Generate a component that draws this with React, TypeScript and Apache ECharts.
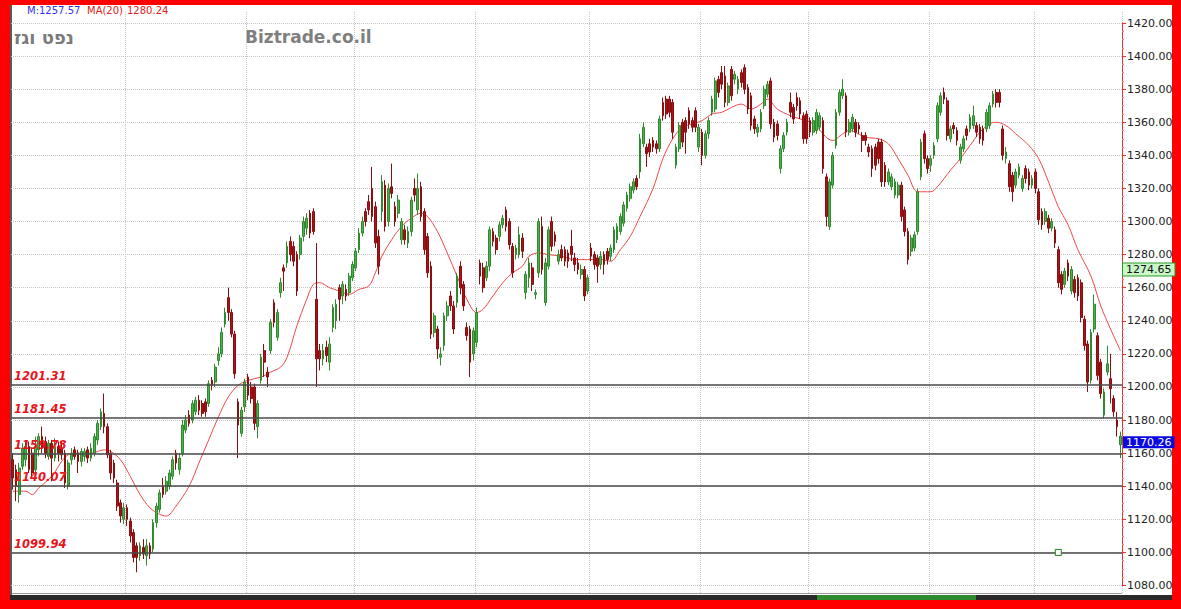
import React, { useEffect, useRef } from "react";
import * as echarts from "echarts";

// [open, close, low, high] per candle, left to right
const ohlc: number[][] = [
  [1156,1145,1138,1160],[1150,1140,1131,1153],[1135,1151,1130,1154],[1152,1163,1150,1166],[1156,1164,1152,1168],
  [1164,1150,1148,1167],[1160,1148,1146,1163],[1150,1164,1148,1170],[1162,1170,1158,1172],[1170,1163,1160,1176],
  [1167,1160,1157,1170],[1158,1166,1156,1168],[1166,1157,1143,1168],[1157,1164,1155,1169],[1164,1160,1155,1167],
  [1163,1159,1156,1167],[1160,1142,1139,1162],[1140,1154,1138,1156],[1156,1160,1153,1163],[1162,1158,1156,1164],
  [1160,1155,1148,1162],[1155,1161,1152,1163],[1158,1161,1155,1163],[1162,1157,1154,1164],[1157,1163,1155,1166],
  [1160,1170,1158,1172],[1168,1178,1165,1180],[1176,1185,1174,1187],[1184,1176,1172,1196],[1176,1159,1157,1178],
  [1160,1148,1144,1162],[1154,1145,1142,1156],[1142,1128,1125,1144],[1130,1122,1118,1132],[1120,1127,1117,1130],
  [1127,1120,1116,1129],[1119,1110,1106,1121],[1112,1097,1094,1114],[1104,1097,1088,1106],[1098,1104,1095,1106],
  [1103,1099,1096,1108],[1098,1104,1092,1108],[1104,1099,1096,1106],[1102,1118,1100,1120],[1118,1128,1115,1130],
  [1126,1136,1124,1138],[1140,1135,1133,1145],[1137,1143,1135,1146],[1140,1148,1138,1150],[1146,1156,1144,1158],
  [1160,1154,1150,1162],[1150,1157,1147,1160],[1160,1177,1158,1180],[1174,1180,1172,1183],[1183,1178,1176,1186],
  [1180,1190,1178,1192],[1185,1192,1183,1194],[1192,1186,1183,1195],[1190,1184,1182,1192],[1191,1185,1182,1193],
  [1190,1202,1188,1204],[1204,1201,1198,1206],[1203,1212,1200,1214],[1216,1220,1213,1224],[1220,1233,1218,1236],
  [1238,1245,1236,1248],[1254,1245,1240,1260],[1245,1232,1230,1247],[1232,1208,1205,1234],[1191,1177,1157,1193],
  [1172,1186,1170,1188],[1188,1203,1185,1205],[1206,1195,1192,1208],[1200,1193,1190,1203],[1200,1178,1174,1202],
  [1176,1190,1169,1192],[1204,1218,1202,1220],[1222,1215,1206,1226],[1209,1206,1200,1212],[1222,1239,1220,1241],
  [1251,1239,1236,1253],[1230,1245,1228,1247],[1257,1263,1254,1266],[1272,1270,1258,1274],[1275,1285,1272,1288],
  [1288,1280,1276,1291],[1285,1276,1273,1288],[1280,1258,1255,1282],[1280,1290,1277,1292],[1291,1300,1288,1303],
  [1296,1302,1292,1305],[1305,1293,1290,1307],[1306,1294,1292,1308],[1253,1217,1200,1287],[1222,1217,1210,1226],
  [1217,1222,1213,1226],[1224,1219,1215,1228],[1215,1226,1210,1230],[1236,1248,1233,1250],[1240,1250,1235,1253],
  [1260,1253,1240,1262],[1255,1262,1250,1264],[1259,1255,1252,1262],[1257,1267,1255,1269],[1266,1274,1264,1276],
  [1272,1282,1270,1284],[1283,1293,1281,1296],[1293,1300,1291,1303],[1306,1300,1297,1308],[1312,1307,1304,1316],
  [1320,1303,1300,1333],[1309,1287,1284,1312],[1291,1273,1268,1295],[1306,1324,1300,1328],[1322,1297,1294,1325],
  [1300,1320,1297,1323],[1321,1317,1314,1335],[1309,1300,1297,1312],[1305,1313,1302,1316],[1289,1300,1286,1302],
  [1295,1289,1286,1298],[1287,1294,1284,1297],[1294,1313,1291,1315],[1320,1316,1312,1326],[1307,1320,1304,1329],
  [1321,1303,1300,1324],[1306,1283,1280,1308],[1291,1269,1266,1293],[1273,1232,1229,1276],[1233,1243,1230,1245],
  [1235,1223,1217,1237],[1218,1220,1213,1224],[1225,1243,1222,1245],[1243,1249,1240,1252],[1255,1249,1246,1258],
  [1249,1235,1232,1252],[1251,1267,1248,1269],[1273,1260,1256,1276],[1262,1249,1246,1264],[1236,1231,1228,1239],
  [1235,1215,1206,1237],[1220,1234,1216,1236],[1227,1245,1224,1248],[1275,1267,1262,1277],[1272,1260,1257,1275],
  [1266,1273,1264,1276],[1273,1295,1270,1297],[1294,1288,1285,1296],[1290,1283,1280,1292],[1291,1298,1288,1300],
  [1298,1302,1296,1304],[1307,1297,1294,1309],[1300,1286,1283,1302],[1285,1269,1266,1287],[1280,1284,1277,1286],
  [1280,1292,1278,1297],[1290,1282,1278,1293],[1257,1268,1253,1270],[1266,1275,1260,1278],[1272,1262,1258,1275],
  [1256,1257,1253,1259],[1269,1300,1266,1302],[1297,1271,1268,1303],[1251,1275,1249,1278],[1273,1295,1271,1297],
  [1300,1285,1282,1303],[1292,1288,1285,1294],[1276,1280,1274,1283],[1283,1278,1276,1286],[1283,1276,1273,1285],
  [1281,1276,1272,1283],[1285,1280,1276,1295],[1278,1274,1270,1281],[1275,1271,1268,1278],[1268,1271,1265,1274],
  [1271,1255,1252,1273],[1258,1266,1256,1268],[1284,1279,1276,1287],[1280,1274,1271,1282],[1278,1273,1263,1280],
  [1274,1279,1271,1282],[1280,1274,1268,1282],[1282,1277,1274,1284],[1279,1284,1276,1286],[1283,1295,1281,1297],
  [1289,1297,1287,1299],[1294,1303,1292,1305],[1299,1310,1297,1312],[1308,1316,1306,1318],[1314,1321,1312,1323],
  [1319,1324,1317,1326],[1326,1321,1319,1328],[1330,1350,1326,1353],[1347,1357,1345,1360],[1345,1341,1333,1347],
  [1347,1342,1339,1350],[1349,1345,1342,1351],[1347,1344,1341,1349],[1344,1362,1342,1364],[1372,1364,1361,1375],
  [1374,1365,1362,1376],[1374,1366,1363,1376],[1372,1354,1350,1374],[1334,1345,1332,1347],[1344,1358,1342,1360],
  [1360,1348,1345,1362],[1361,1354,1341,1363],[1367,1359,1356,1369],[1361,1357,1354,1363],[1367,1357,1354,1369],
  [1345,1357,1342,1359],[1354,1340,1334,1356],[1340,1353,1338,1355],[1353,1361,1350,1363],[1366,1374,1364,1376],
  [1368,1385,1366,1387],[1386,1378,1375,1388],[1390,1383,1380,1394],[1388,1372,1369,1394],[1372,1382,1370,1384],
  [1392,1376,1373,1394],[1386,1389,1383,1391],[1380,1386,1377,1388],[1390,1384,1381,1392],[1393,1380,1377,1395],
  [1381,1368,1365,1383],[1376,1358,1355,1378],[1362,1356,1353,1364],[1354,1357,1351,1359],[1356,1366,1354,1368],
  [1370,1380,1368,1382],[1377,1383,1375,1385],[1385,1359,1356,1387],[1360,1351,1348,1362],[1359,1352,1349,1361],
  [1332,1344,1329,1346],[1344,1352,1342,1354],[1354,1360,1352,1362],[1372,1366,1363,1378],[1369,1362,1359,1371],
  [1375,1370,1367,1378],[1373,1365,1362,1375],[1364,1350,1347,1366],[1365,1350,1347,1367],[1361,1354,1351,1363],
  [1354,1361,1352,1363],[1355,1366,1353,1368],[1357,1364,1355,1366],[1361,1332,1329,1363],[1327,1303,1297,1329],
  [1297,1324,1295,1326],[1322,1340,1320,1342],[1346,1366,1344,1368],[1366,1378,1364,1380],[1376,1380,1374,1386],
  [1376,1354,1351,1378],[1354,1360,1352,1362],[1356,1363,1354,1365],[1360,1354,1351,1362],[1358,1356,1353,1360],
  [1352,1349,1342,1354],[1352,1349,1346,1354],[1345,1342,1339,1347],[1344,1332,1327,1346],[1345,1334,1331,1347],
  [1348,1338,1335,1350],[1348,1324,1321,1350],[1334,1324,1321,1336],[1324,1330,1322,1332],[1321,1327,1319,1329],
  [1316,1324,1314,1326],[1316,1322,1314,1324],[1322,1303,1300,1324],[1307,1294,1291,1309],[1294,1277,1274,1296],
  [1282,1290,1279,1292],[1284,1292,1282,1294],[1294,1318,1292,1320],[1327,1348,1325,1350],[1353,1338,1335,1355],
  [1338,1332,1329,1340],[1334,1338,1330,1340],[1340,1346,1338,1348],[1350,1370,1348,1372],[1366,1376,1364,1378],
  [1378,1374,1371,1381],[1373,1352,1349,1375],[1350,1356,1348,1358],[1358,1356,1353,1360],[1355,1349,1346,1357],
  [1337,1345,1335,1347],[1344,1350,1342,1352],[1356,1352,1349,1358],[1356,1363,1354,1365],[1358,1364,1356,1370],
  [1358,1354,1351,1360],[1357,1350,1347,1359],[1356,1349,1346,1358],[1356,1366,1354,1368],[1358,1370,1356,1372],
  [1371,1377,1369,1379],[1378,1372,1369,1380],[1378,1372,1369,1380],[1356,1340,1337,1358],[1338,1342,1335,1345],
  [1335,1321,1318,1337],[1328,1318,1312,1330],[1322,1330,1320,1332],[1328,1333,1326,1335],[1320,1326,1318,1328],
  [1332,1326,1323,1334],[1330,1322,1319,1332],[1322,1326,1320,1328],[1330,1320,1317,1332],[1318,1301,1298,1320],
  [1306,1298,1295,1308],[1300,1306,1298,1308],[1302,1296,1293,1304],[1296,1300,1294,1302],[1295,1287,1284,1297],
  [1283,1263,1260,1285],[1268,1259,1256,1270],[1262,1270,1260,1272],[1275,1267,1264,1277],[1258,1271,1256,1273],
  [1265,1257,1254,1267],[1266,1255,1252,1268],[1263,1242,1239,1265],[1241,1225,1222,1243],[1226,1203,1197,1228],
  [1204,1233,1202,1235],[1235,1250,1233,1256],[1231,1207,1204,1233],[1215,1196,1193,1217],[1183,1197,1181,1199],
  [1209,1214,1207,1225],[1205,1199,1190,1220],[1193,1185,1182,1195],[1180,1176,1170,1185],[1165,1170.26,1157,1173],
];

// category ids (dates are not legible in the reference)
const categories: string[] = ohlc.map((_, i) => String(i + 1));

// MA(20) traced as [candle index, value]
const maPoints: number[][] = [
  [0,1137],[4,1137],[6,1135],[8,1139],[12,1146],[15,1155],[17,1159],[19,1160],[24,1160],[28,1162],[30,1161],
  [33,1156],[36,1146],[39,1135],[42,1127],[45,1123],[47,1122],[50,1128],[54,1140],[57,1154],[60,1168],[63,1182],
  [66,1194],[69,1201],[72,1204],[76,1206],[79,1209],[82,1212],[84,1218],[87,1237],[90,1253],[92,1262],[94,1263],
  [97,1260],[100,1258],[103,1256],[106,1259],[109,1261],[111,1269],[113,1279],[116,1289],[119,1297],[122,1302],
  [125,1305],[127,1303],[130,1294],[133,1281],[136,1267],[139,1253],[142,1245],[144,1247],[147,1255],[150,1263],
  [153,1269],[156,1273],[158,1279],[161,1281],[164,1280],[168,1279],[172,1277],[176,1277],[180,1277],[183,1276],
  [186,1283],[189,1291],[192,1303],[196,1320],[199,1338],[202,1350],[205,1357],[208,1359],[211,1361],[214,1365],
  [217,1366],[220,1369],[223,1371],[226,1368],[229,1371],[231,1374],[234,1368],[238,1364],[241,1362],[245,1359],
  [251,1349],[254,1353],[256,1355],[261,1351],[265,1350],[268,1347],[271,1338],[274,1328],[277,1318],[281,1318],
  [283,1321],[287,1331],[290,1338],[293,1346],[296,1354],[299,1359],[301,1360],[304,1358],[307,1353],[311,1346],
  [314,1338],[317,1324],[320,1309],[323,1298],[326,1283],[330,1267],[333,1249],[336,1235],[339,1222],
];

// horizontal support / resistance levels
const levels: number[] = [1201.31, 1181.45, 1159.78, 1140.07, 1099.94];
// price tags on the right axis
const greenTag = 1274.65;
const lastPrice = 1170.26;
// y axis ticks
const yMin = 1080;
const yMax = 1420;
const yStep = 20;
// candle indices where the vertical (month) grid lines fall
const vGrid: number[] = [35, 72, 105, 142, 177, 211, 244, 281, 313];
// small marker
const marker: [number, number] = [320, 1100];
// header texts
const headerM = "M:1257.57";
const headerMA = "MA(20)";
const headerMAValue = "1280.24";
const titleHe = "נפט וגז";
const site = "Biztrade.co.il";

export default function App() {
  const ref = useRef<HTMLDivElement>(null);

  useEffect(() => {
    if (!ref.current) return;
    const chart = echarts.init(ref.current, undefined, { renderer: "svg" });
    const font = '"DejaVu Sans", Verdana, sans-serif';
    const option: any = {
      animation: false,
      backgroundColor: "transparent",
      grid: [
        { left: 11, right: 59, top: 23, bottom: 23.5, containLabel: false },
        { left: 11, right: 59, top: 12, bottom: 15, containLabel: false },
      ],
      xAxis: [
        {
          type: "category",
          gridIndex: 0,
          data: categories,
          boundaryGap: true,
          axisLine: { show: false },
          axisTick: { show: false },
          axisLabel: { show: false },
          splitLine: { show: false },
        },
        {
          type: "category",
          gridIndex: 1,
          data: categories,
          boundaryGap: true,
          axisLine: { show: false },
          axisTick: { show: false },
          axisLabel: { show: false },
          splitLine: {
            show: true,
            interval: (i: number) => vGrid.includes(i),
            lineStyle: { color: "#c4c4c4", type: "dotted", width: 1 },
          },
        },
      ],
      yAxis: [
        {
          type: "value",
          gridIndex: 0,
          position: "right",
          min: yMin,
          max: yMax,
          interval: yStep,
          axisLine: { show: true, lineStyle: { color: "#f03030", width: 1 } },
          axisTick: { show: true, length: 4, lineStyle: { color: "#f03030" } },
          minorTick: { show: true, splitNumber: 4, length: 2, lineStyle: { color: "#f08080" } },
          axisLabel: {
            formatter: (v: number) => v.toFixed(2),
            color: "#222",
            fontSize: 11,
            fontFamily: font,
            margin: 5,
          },
          splitLine: { show: true, lineStyle: { color: "#c4c4c4", type: "dotted", width: 1 } },
        },
        {
          type: "value",
          gridIndex: 1,
          min: 0,
          max: 1,
          show: false,
          splitLine: { show: false },
        },
      ],
      graphic: [
        { type: "text", left: 27, top: 5, style: { text: headerM, fill: "#3030f0", font: `10px ${font}` } },
        { type: "text", left: 87, top: 5, style: { text: headerMA, fill: "#e02020", font: `10px ${font}` } },
        { type: "text", left: 127, top: 5, style: { text: headerMAValue, fill: "#e02020", font: `10px ${font}` } },
        { type: "text", left: 14, top: 28, style: { text: titleHe, fill: "#7a7a7a", font: `bold 18px ${font}` } },
        { type: "text", left: 245, top: 28, style: { text: site, fill: "#7f7f7f", font: `bold 17px ${font}` } },
      ],
      series: [
        {
          name: "MA(20)",
          type: "line",
          xAxisIndex: 0,
          yAxisIndex: 0,
          z: 1,
          data: maPoints,
          smooth: 0.35,
          symbol: "none",
          lineStyle: { color: "#f04848", width: 1 },
          markLine: {
            symbol: "none",
            silent: true,
            animation: false,
            data: levels.map((v) => ({
              yAxis: v,
              lineStyle: { color: "#4a4a4a", width: 1.5, type: "solid" },
              label: {
                show: true,
                position: "insideStartTop",
                formatter: v.toFixed(2),
                color: "#e8141a",
                fontStyle: "italic",
                fontWeight: "bold",
                fontSize: 11.5,
                fontFamily: font,
                distance: [3, 3],
              },
            })),
          },
          markPoint: {
            silent: true,
            data: [
              {
                coord: [categories[marker[0]], marker[1]],
                symbol: "rect",
                symbolSize: 6,
                itemStyle: { color: "#ffffff", borderColor: "#1f7f1f", borderWidth: 1 },
                label: { show: false },
              },
            ],
          },
        },
        {
          name: "Price",
          type: "candlestick",
          xAxisIndex: 0,
          yAxisIndex: 0,
          z: 3,
          data: ohlc,
          barWidth: 2.2,
          itemStyle: {
            color: "#4fb04f",
            color0: "#a8141a",
            borderColor: "#2f8a2f",
            borderColor0: "#8a0d10",
            borderWidth: 1,
          },
          markLine: {
            symbol: "none",
            silent: true,
            animation: false,
            data: [
              {
                yAxis: greenTag,
                lineStyle: { color: "rgba(0,0,0,0)", width: 0 },
                label: {
                  show: true,
                  position: "end",
                  formatter: greenTag.toFixed(2),
                  backgroundColor: "#c8f7c8",
                  borderColor: "#2a9a2a",
                  borderWidth: 1,
                  color: "#111",
                  padding: [1, 3, 0, 3],
                  fontSize: 11,
                  fontFamily: font,
                  distance: 1,
                  offset: [0, 6],
                },
              },
              {
                yAxis: lastPrice,
                lineStyle: { color: "rgba(0,0,0,0)", width: 0 },
                label: {
                  show: true,
                  position: "end",
                  formatter: lastPrice.toFixed(2),
                  backgroundColor: "#0a0ae0",
                  color: "#ffffff",
                  padding: [1, 3, 0, 3],
                  fontSize: 11,
                  fontFamily: font,
                  distance: 1,
                  offset: [0, 6],
                },
              },
            ],
          },
        },
      ],
    };
    chart.setOption(option);
    return () => chart.dispose();
  }, []);

  return (
    <div style={{ position: "fixed", left: 0, top: 0, width: 1181, height: 609, background: "#ff0000", overflow: "hidden" }}>
      <div style={{ position: "absolute", left: 10, top: 5, width: 1162, height: 591, background: "#ffffff" }} />
      <div style={{ position: "absolute", left: 10, top: 5, width: 2, height: 591, background: "#5a5a5a" }} />
      <div style={{ position: "absolute", left: 12, top: 593, width: 1110, height: 1, background: "#9a9a9a" }} />
      <div style={{ position: "absolute", left: 10, top: 595, width: 1162, height: 5, background: "#2a2a2a" }} />
      <div style={{ position: "absolute", left: 817, top: 595, width: 159, height: 5, background: "#2e8b2e" }} />
      <div ref={ref} style={{ position: "absolute", left: 0, top: 0, width: 1181, height: 609 }} />
    </div>
  );
}
